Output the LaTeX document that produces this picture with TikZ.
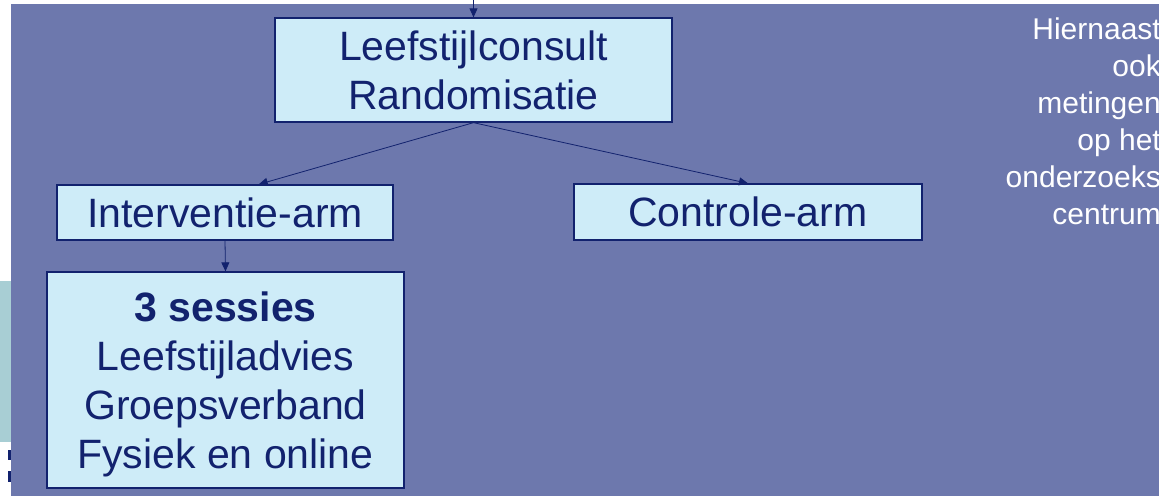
\documentclass[tikz,border=0pt]{standalone}
\usepackage{fontspec}
\setmainfont{Liberation Sans}
\usetikzlibrary{arrows.meta,calc}
\definecolor{slate}{RGB}{109,120,173}
\definecolor{paleblue}{RGB}{206,236,248}
\definecolor{navy}{RGB}{18,34,110}
\definecolor{paleteal}{RGB}{168,206,212}

\begin{document}
\begin{tikzpicture}[x=1pt,y=-1pt,
  stepbox/.style={draw=navy,line width=1.3pt,fill=paleblue,text=navy,inner sep=0pt,
    align=center,font=\fontsize{41}{49}\selectfont},
  flow/.style={draw=navy,line width=0.8pt,-{Triangle[width=8pt,length=9pt]}}]
  \useasboundingbox (0,0) rectangle (1159,496);
  \fill[white] (0,0) rectangle (1159,496);
  \fill[slate] (11,4) rectangle (1159,496);
  \fill[paleteal] (0,281) rectangle (11,442);
  \fill[navy] (8,450) rectangle (11,460);
  \fill[navy] (8,471) rectangle (11,482);
  \node[stepbox,minimum width=397pt,minimum height=104pt] (consult) at (473.5,70)
    {Leefstijlconsult\\Randomisatie};
  \node[stepbox,minimum width=336pt,minimum height=55pt] (interventie) at (225,212.5)
    {Interventie-arm};
  \node[stepbox,minimum width=348pt,minimum height=56pt] (controle) at (748,212)
    {Controle-arm};
  \node[stepbox,minimum width=357pt,minimum height=216pt] (sessies) at (225.5,380)
    {\rule{0pt}{38pt}\textbf{3 sessies}\\Leefstijladvies\\Groepsverband\\Fysiek en online};
  \node[anchor=north east,text=white,align=right,inner sep=0pt,
    font=\fontsize{30}{37}\selectfont] (note) at (1161,18)
    {Hiernaast\\ook\\metingen\\op het\\onderzoeks\\centrum};
  \coordinate (entry) at (473.5,0);
  \draw[flow] (entry) -- (consult.north);
  \draw[flow] (consult.south) -- ($(interventie.north west)!0.6!(interventie.north east)$);
  \draw[flow] (consult.south) -- (controle.north);
  \draw[flow] (interventie.south) -- (sessies.north);
\end{tikzpicture}
\end{document}
